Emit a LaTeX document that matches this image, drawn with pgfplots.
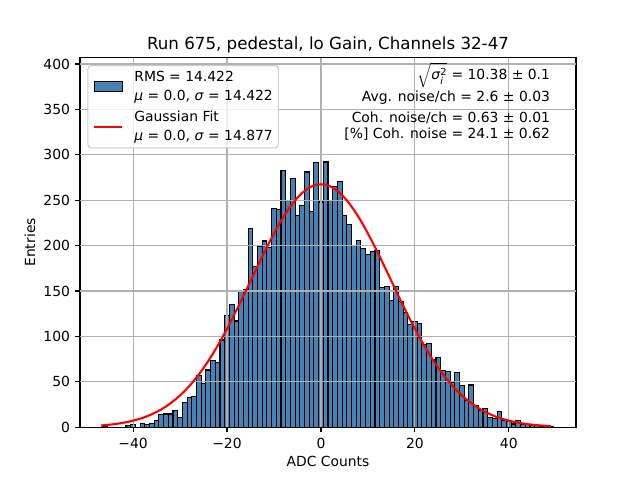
\documentclass[border=0pt]{standalone}
\usepackage{fontspec}
\setmainfont{DejaVu Sans}
\usepackage{pgfplots}
\pgfplotsset{compat=1.18}
\usepackage{pgfplotstable}
\definecolor{steelblue}{HTML}{4682B4}
\definecolor{gridgray}{HTML}{B0B0B0}
\definecolor{legedge}{HTML}{CCCCCC}
\newcommand{\mmu}{\textit{μ}}
\newcommand{\msig}{\textit{σ}}

\pgfplotstableread{
k n
-46 1
-41 1.5
-40 3
-38 4
-37 3
-36 4.5
-35 7.5
-34 14
-33 14.5
-32 14.5
-31 18
-30 11
-29 27.5
-28 33
-27 34
-26 57
-25 48.5
-24 63
-23 73
-22 71.5
-21 96
-20 123
-19 135
-18 117
-17 150
-16 152
-15 219
-14 177
-13 199
-12 205
-11 197.5
-10 241
-9 240
-8 283
-7 250
-6 274
-5 233
-4 244
-3 281
-2 238
-1 291
0 248
1 292
2 250
3 265
4 271
5 233
6 223
7 200
8 205.5
9 197
10 190
11 193
12 195
13 154
14 155
15 139.5
16 155
17 138.5
18 126
19 113
20 116.5
21 114.5
22 91
23 92.5
24 74
25 77
26 62
27 61
28 49
29 60.5
30 46
31 29
32 46.5
33 23.5
34 18
35 20.5
36 11
37 10
38 17.5
39 7
40 6
41 3.5
42 7.5
43 3
44 2.5
45 2
46 1.5
47 1
48 1
49 1
}\histdata

\pgfplotstableread{
x y
-46.8 1.90
-46 2.25
-45 2.76
-44 3.37
-43 4.10
-42 4.97
-41 6.00
-40 7.20
-39 8.60
-38 10.2
-37 12.1
-36 14.3
-35 16.8
-34 19.6
-33 22.8
-32 26.5
-31 30.5
-30 35.0
-29 40.0
-28 45.5
-27 51.5
-26 58.1
-25 65.2
-24 72.8
-23 81.0
-22 89.6
-21 98.8
-20 108.4
-19 118.3
-18 128.7
-17 139.2
-16 150.0
-15 160.9
-14 171.8
-13 182.6
-12 193.2
-11 203.5
-10 213.4
-9 222.8
-8 231.5
-7 239.5
-6 246.6
-5 252.8
-4 258.0
-3 262.1
-2 265.1
-1 266.9
0 267.5
1 266.9
2 265.1
3 262.1
4 258.0
5 252.8
6 246.6
7 239.5
8 231.5
9 222.8
10 213.4
11 203.5
12 193.2
13 182.6
14 171.8
15 160.9
16 150.0
17 139.2
18 128.7
19 118.3
20 108.4
21 98.8
22 89.6
23 81.0
24 72.8
25 65.2
26 58.1
27 51.5
28 45.5
29 40.0
30 35.0
31 30.5
32 26.5
33 22.8
34 19.6
35 16.8
36 14.3
37 12.1
38 10.2
39 8.60
40 7.20
41 6.00
42 4.97
43 4.10
44 3.37
45 2.76
46 2.25
47 1.82
48 1.47
49 1.18
}\fitdata

\begin{document}
\begin{tikzpicture}[font=\fontsize{10}{12}\selectfont]
\fill[white] (0,0) rectangle (460.8pt,345.6pt);
\path[use as bounding box] (0,0) rectangle (460.8pt,345.6pt);
\begin{axis}[
  at={(57.6pt,38.016pt)}, anchor=south west,
  width=357.12pt, height=266.112pt, scale only axis,
  xmin=-51.3, xmax=54.3, ymin=0, ymax=407,
  axis line style={black, line width=0.8pt},
  tick pos=left, tick align=outside,
  major tick length=3.5pt,
  tick style={black, line width=0.8pt},
  xtick={-40,-20,0,20,40},
  xticklabels={−40,−20,0,20,40},
  ytick={0,50,100,150,200,250,300,350,400},
  yticklabels={0,50,100,150,200,250,300,350,400},
  xticklabel style={anchor=base, yshift=-11.7pt, inner sep=0pt},
  yticklabel style={anchor=east, xshift=-3.5pt, inner sep=0pt},
  grid=major,
  major grid style={gridgray, line width=0.8pt},
  title={Run 675, pedestal, lo Gain, Channels 32-47},
  title style={at={(axis description cs:0.5,1.0)}, anchor=base, inner sep=0pt, font=\fontsize{12}{14}\selectfont},
  xlabel={ADC Counts},
  xlabel style={at={(axis description cs:0.5,-0.1069)}, anchor=base, inner sep=0pt},
  ylabel={Entries},
  ylabel style={at={(axis description cs:-0.0907,0.5)}, anchor=base, inner sep=0pt},
  legend cell align=left,
  legend style={at={(axis description cs:0.0147,0.98)}, anchor=north west,
    draw=legedge, line width=0.8pt, rounded corners=2.5pt,
    fill=white, fill opacity=0.8, text opacity=1, draw opacity=1,
    inner xsep=4pt, inner ysep=4pt, row sep=6.3pt, column sep=8pt,
    nodes={inner sep=0pt}, cells={align=left},
    font=\fontsize{10}{13.5}\selectfont},
]
\addplot[ybar, bar width=1, bar shift=0pt, fill=steelblue, draw=black, line width=0.8pt,
  legend image code/.code={\draw[sharp corners, fill=steelblue, draw=black, line width=0.8pt, fill opacity=1] (0pt,-3.6pt) rectangle (20pt,3.6pt);}]
  table[x=k, y=n] {\histdata};
\addlegendentry{RMS = 14.422\\\mmu\ = 0.0, \msig\ = 14.422}
\draw[gridgray, line width=0.8pt] (axis cs:-40,0) -- (axis cs:-40,407);
\draw[gridgray, line width=0.8pt] (axis cs:-20,0) -- (axis cs:-20,407);
\draw[gridgray, line width=0.8pt] (axis cs:0,0) -- (axis cs:0,407);
\draw[gridgray, line width=0.8pt] (axis cs:20,0) -- (axis cs:20,407);
\draw[gridgray, line width=0.8pt] (axis cs:40,0) -- (axis cs:40,407);
\draw[gridgray, line width=0.8pt] (axis cs:-51.3,50) -- (axis cs:54.3,50);
\draw[gridgray, line width=0.8pt] (axis cs:-51.3,100) -- (axis cs:54.3,100);
\draw[gridgray, line width=0.8pt] (axis cs:-51.3,150) -- (axis cs:54.3,150);
\draw[gridgray, line width=0.8pt] (axis cs:-51.3,200) -- (axis cs:54.3,200);
\draw[gridgray, line width=0.8pt] (axis cs:-51.3,250) -- (axis cs:54.3,250);
\draw[gridgray, line width=0.8pt] (axis cs:-51.3,300) -- (axis cs:54.3,300);
\draw[gridgray, line width=0.8pt] (axis cs:-51.3,350) -- (axis cs:54.3,350);
\draw[gridgray, line width=0.8pt] (axis cs:-51.3,400) -- (axis cs:54.3,400);
\addplot[red, line width=1.5pt, mark=none,
  legend image code/.code={\draw[red, line width=1.5pt] (0pt,0pt) -- (20pt,0pt);}]
  table[x=x, y=y] {\fitdata};
\addlegendentry{Gaussian Fit\\\mmu\ = 0.0, \msig\ = 14.877}
\node[anchor=base east, inner sep=0pt] at (rel axis cs:0.948,0.9394) {\smash{$\sqrt{\mbox{\itshape σ}^{\mbox{\scriptsize 2}}_{\mbox{\scriptsize\itshape i}}}$} = 10.38 ± 0.1};
\node[anchor=base east, inner sep=0pt] at (rel axis cs:0.948,0.8807) {Avg. noise/ch = 2.6 ± 0.03};
\node[anchor=base east, inner sep=0pt] at (rel axis cs:0.948,0.8231) {Coh. noise/ch = 0.63 ± 0.01};
\node[anchor=base east, inner sep=0pt] at (rel axis cs:0.948,0.7817) {[\%] Coh. noise = 24.1 ± 0.62};
\end{axis}
\end{tikzpicture}
\end{document}
